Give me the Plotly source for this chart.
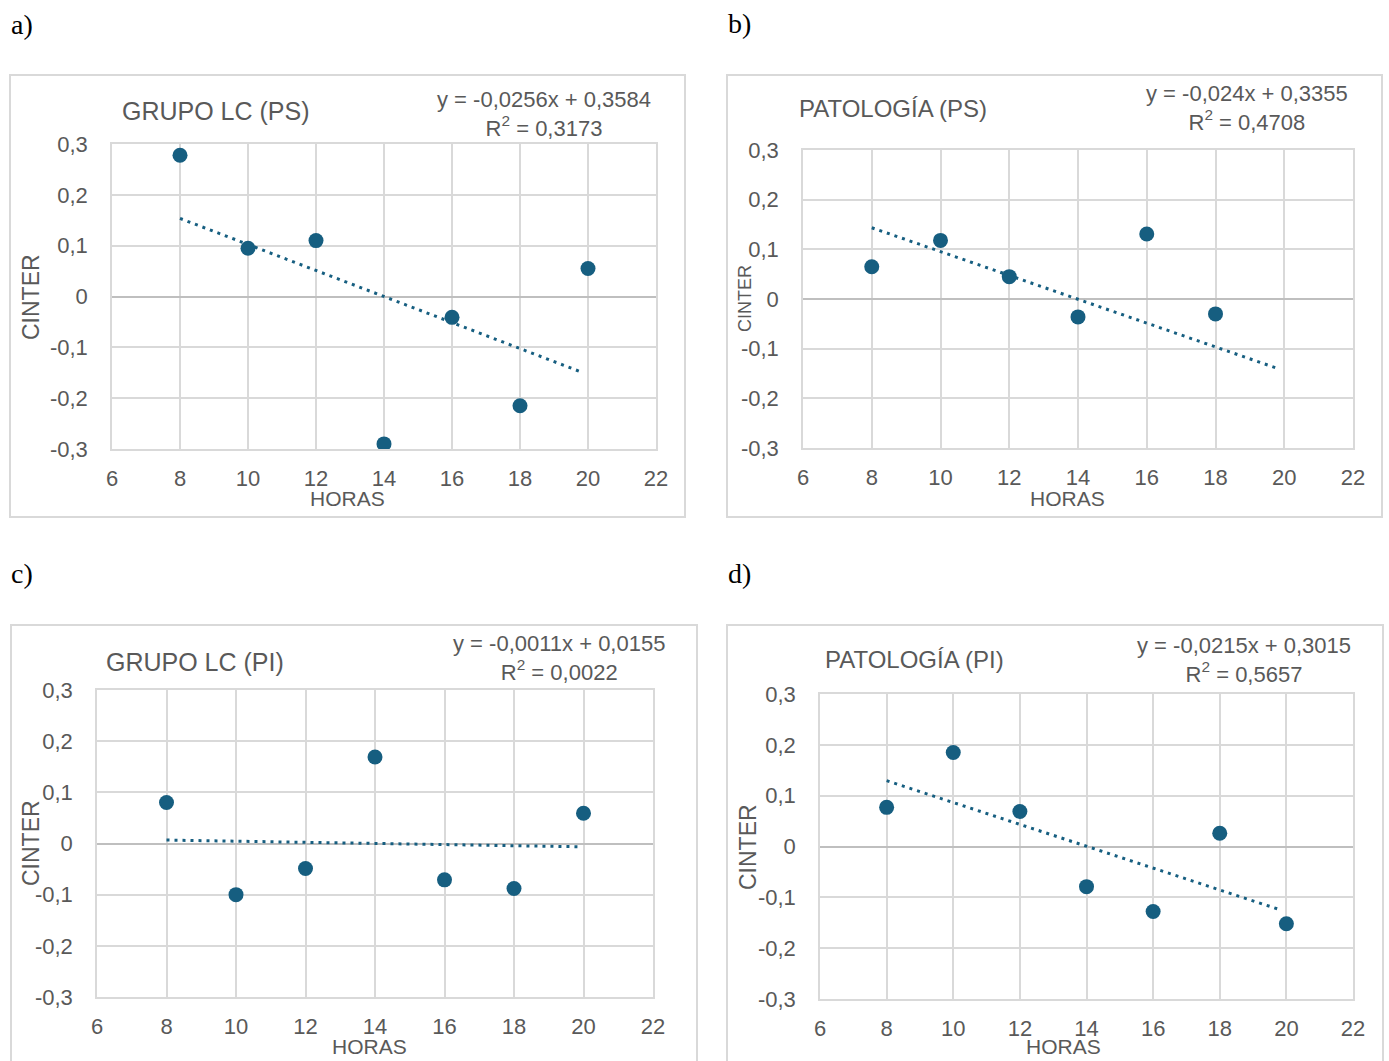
import plotly.graph_objects as go

# ---------------- data ----------------
horas_a = [8, 10, 12, 14, 16, 18, 20]
cinter_a = [0.278, 0.095, 0.110, -0.290, -0.041, -0.215, 0.055]
coef_a = [-0.0256, 0.3584]
eq_a = ["y = -0,0256x + 0,3584", "R<sup>2</sup> = 0,3173"]
title_a = "GRUPO LC (PS)"

horas_b = [8, 10, 12, 14, 16, 18]
cinter_b = [0.065, 0.118, 0.045, -0.036, 0.131, -0.030]
coef_b = [-0.024, 0.3355]
eq_b = ["y = -0,024x + 0,3355", "R<sup>2</sup> = 0,4708"]
title_b = "PATOLOGÍA (PS)"

horas_c = [8, 10, 12, 14, 16, 18, 20]
cinter_c = [0.080, -0.100, -0.049, 0.169, -0.071, -0.088, 0.059]
coef_c = [-0.0011, 0.0155]
eq_c = ["y = -0,0011x + 0,0155", "R<sup>2</sup> = 0,0022"]
title_c = "GRUPO LC (PI)"

horas_d = [8, 10, 12, 14, 16, 18, 20]
cinter_d = [0.077, 0.185, 0.069, -0.079, -0.128, 0.026, -0.152]
coef_d = [-0.0215, 0.3015]
eq_d = ["y = -0,0215x + 0,3015", "R<sup>2</sup> = 0,5657"]
title_d = "PATOLOGÍA (PI)"

trend_x = [8, 19.85]
x_ticks = [6, 8, 10, 12, 14, 16, 18, 20, 22]
y_ticks = [-0.3, -0.2, -0.1, 0, 0.1, 0.2, 0.3]
y_ticktext = ["-0,3", "-0,2", "-0,1", "0", "0,1", "0,2", "0,3"]
panel_labels = ["a)", "b)", "c)", "d)"]

# ---------------- layout helpers ----------------
W, H = 1389, 1061
def px(x):
    return x / W
def py(y):
    return 1 - y / H

MARK = "#165e80"
GRID = "#d9d9d9"
TXT = "#595959"
FONT = "Liberation Sans"

panels = [
    dict(x=horas_a, y=cinter_a, coef=coef_a, eq=eq_a, title=title_a, tsize=25,
         plot=(112, 656, 144, 449), box=(10, 685, 75, 517),
         title_pos=(120, 111), eq_pos=(544, 114), cinter=(31, 297, 23), horas=(348, 498)),
    dict(x=horas_b, y=cinter_b, coef=coef_b, eq=eq_b, title=title_b, tsize=24,
         plot=(803, 1353, 150, 448), box=(727, 1382, 75, 517),
         title_pos=(797, 109), eq_pos=(1247, 108), cinter=(745, 299, 18), horas=(1067, 498)),
    dict(x=horas_c, y=cinter_c, coef=coef_c, eq=eq_c, title=title_c, tsize=25,
         plot=(97, 653, 690, 997), box=(11, 697, 625, 1080),
         title_pos=(104, 662), eq_pos=(559, 658), cinter=(31, 843, 23), horas=(369, 1046)),
    dict(x=horas_d, y=cinter_d, coef=coef_d, eq=eq_d, title=title_d, tsize=24,
         plot=(820, 1353, 694, 999), box=(727, 1383, 625, 1080),
         title_pos=(823, 659), eq_pos=(1244, 660), cinter=(748, 847, 23), horas=(1063, 1046)),
]

fig = go.Figure()
annotations = []
shapes = []

for i, p in enumerate(panels, start=1):
    xa = "x" if i == 1 else f"x{i}"
    ya = "y" if i == 1 else f"y{i}"
    ty = [p["coef"][0] * t + p["coef"][1] for t in trend_x]
    fig.add_trace(go.Scatter(x=trend_x, y=ty, mode="lines", xaxis=xa, yaxis=ya,
                             line=dict(color=MARK, width=3, dash="3px,5px"),
                             showlegend=False, hoverinfo="skip"))
    fig.add_trace(go.Scatter(x=p["x"], y=p["y"], mode="markers", xaxis=xa, yaxis=ya,
                             marker=dict(color=MARK, size=15, line=dict(width=0)),
                             showlegend=False))
    x0, x1, y0, y1 = p["plot"]
    axis_common = dict(showgrid=True, gridcolor=GRID, gridwidth=1.5,
                       showline=True, linecolor=GRID, linewidth=1.5, mirror=True,
                       ticks="", tickfont=dict(family=FONT, size=22, color=TXT),
                       fixedrange=True, automargin=False)
    fig.layout[f"xaxis{'' if i == 1 else i}"] = dict(
        domain=[px(x0), px(x1)], range=[6, 22], tickvals=x_ticks,
        anchor=ya, zeroline=False, ticklabelstandoff=9, **axis_common)
    fig.layout[f"yaxis{'' if i == 1 else i}"] = dict(
        domain=[py(y1), py(y0)], range=[-0.3, 0.3], tickvals=y_ticks,
        ticktext=y_ticktext, anchor=xa, zeroline=True, zerolinecolor="#bfbfbf",
        zerolinewidth=2, ticklabelstandoff=18, **axis_common)

    bx0, bx1, by0, by1 = p["box"]
    shapes.append(dict(type="rect", xref="paper", yref="paper",
                       x0=px(bx0), x1=px(bx1), y0=py(by1), y1=py(by0),
                       line=dict(color=GRID, width=2), fillcolor="rgba(0,0,0,0)", layer="below"))
    annotations.append(dict(text=p["title"], x=px(p["title_pos"][0]), y=py(p["title_pos"][1]),
                            xref="paper", yref="paper", xanchor="left", yanchor="middle",
                            showarrow=False, font=dict(family=FONT, size=p["tsize"], color=TXT)))
    annotations.append(dict(text="<br>".join(p["eq"]), x=px(p["eq_pos"][0]), y=py(p["eq_pos"][1]),
                            xref="paper", yref="paper", xanchor="center", yanchor="middle",
                            align="center", showarrow=False,
                            font=dict(family=FONT, size=22, color=TXT)))
    cx, cy, cs = p["cinter"]
    annotations.append(dict(text="CINTER", x=px(cx), y=py(cy), xref="paper", yref="paper",
                            xanchor="center", yanchor="middle", textangle=-90, showarrow=False,
                            font=dict(family=FONT, size=cs, color=TXT)))
    hx, hy = p["horas"]
    annotations.append(dict(text="HORAS", x=px(hx), y=py(hy), xref="paper", yref="paper",
                            xanchor="center", yanchor="middle", showarrow=False,
                            font=dict(family=FONT, size=21, color=TXT)))

label_pos = [(9, 25), (726, 23), (9, 573), (726, 573)]
for lab, (lx, ly) in zip(panel_labels, label_pos):
    annotations.append(dict(text=lab, x=px(lx), y=py(ly), xref="paper", yref="paper",
                            xanchor="left", yanchor="middle", showarrow=False,
                            font=dict(family="Liberation Serif", size=28, color="black")))

fig.update_layout(width=W, height=H, margin=dict(l=0, r=0, t=0, b=0),
                  paper_bgcolor="white", plot_bgcolor="white",
                  annotations=annotations, shapes=shapes, separators=",.")

fig.write_html("out.html")
